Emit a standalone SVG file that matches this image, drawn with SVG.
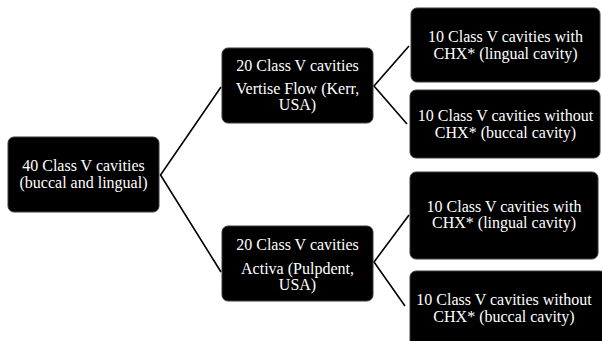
<svg xmlns="http://www.w3.org/2000/svg" width="602" height="341" viewBox="0 0 602 341">
<style>
.n{fill:#000;stroke:#3a3a3a;stroke-width:1}
.t{fill:#fff;font-family:"Liberation Serif","Times New Roman",serif;font-size:16px;text-anchor:middle}
.c{fill:none;stroke:#000;stroke-width:1.6}
</style>
<rect width="602" height="341" fill="#fff"/>
<g id="connectors">
<polyline class="c" points="221,87 160.5,175 221,272"/>
<polyline class="c" points="409,46 374,86 407,124"/>
<polyline class="c" points="409,215 374,262 405,306"/>
</g>
<g id="root">
<rect class="n" x="8" y="137" width="151" height="75" rx="6"/>
<text class="t" x="83.5" y="171">40 Class V cavities</text>
<text class="t" x="83.5" y="188">(buccal and lingual)</text>
</g>
<g id="vertise">
<rect class="n" x="222" y="48" width="151" height="75" rx="6"/>
<text class="t" x="297.5" y="71">20 Class V cavities</text>
<text class="t" x="297.5" y="94">Vertise Flow (Kerr,</text>
<text class="t" x="297.5" y="110">USA)</text>
</g>
<g id="activa">
<rect class="n" x="222" y="226" width="151" height="75" rx="6"/>
<text class="t" x="297.5" y="250">20 Class V cavities</text>
<text class="t" x="297.5" y="274">Activa (Pulpdent,</text>
<text class="t" x="297.5" y="290">USA)</text>
</g>
<g id="vertise-chx">
<rect class="n" x="411" y="8" width="189" height="74" rx="6"/>
<text class="t" x="505.5" y="42">10 Class V cavities with</text>
<text class="t" x="505.5" y="59">CHX* (lingual cavity)</text>
</g>
<g id="vertise-nochx">
<rect class="n" x="410" y="90" width="190" height="68" rx="6"/>
<text class="t" x="505.5" y="121">10 Class V cavities without</text>
<text class="t" x="505.5" y="138">CHX* (buccal cavity)</text>
</g>
<g id="activa-chx">
<rect class="n" x="410" y="172" width="188" height="87" rx="6"/>
<text class="t" x="504" y="212">10 Class V cavities with</text>
<text class="t" x="504" y="228">CHX* (lingual cavity)</text>
</g>
<g id="activa-nochx">
<rect class="n" x="410" y="271" width="196" height="76" rx="6"/>
<text class="t" x="504" y="305">10 Class V cavities without</text>
<text class="t" x="504" y="322">CHX* (buccal cavity)</text>
</g>
</svg>
